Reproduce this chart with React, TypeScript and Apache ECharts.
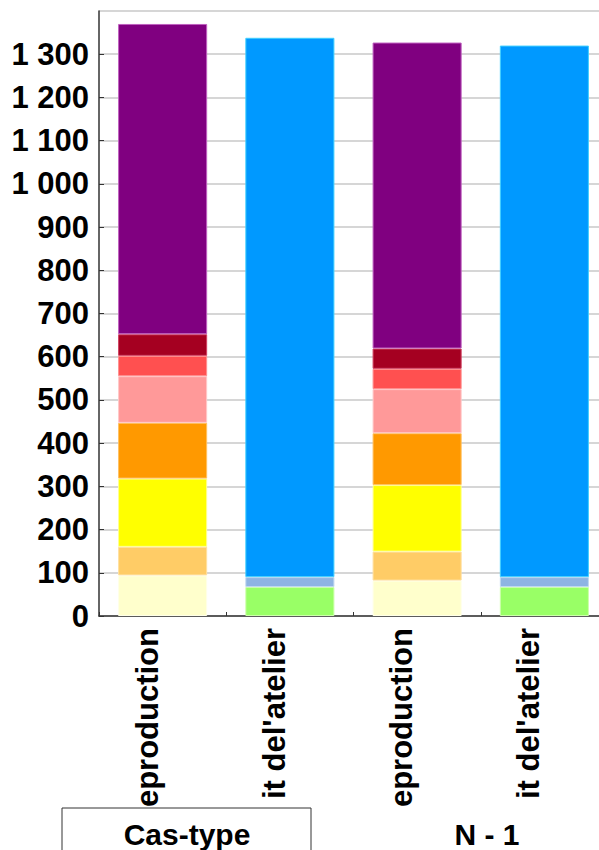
import React, { useEffect, useRef } from "react";
import * as echarts from "echarts";

const categories = ["eproduction", "it del'atelier", "eproduction", "it del'atelier"];
const groupLabels = ["Cas-type", "N - 1"];
const yTicks = { min: 0, max: 1400, interval: 100 };

const seriesNames = [
  "Poste 1", "Poste 2", "Poste 3", "Poste 4", "Poste 5", "Poste 6", "Poste 7", "Poste 8",
  "Poste 9", "Poste 10", "Poste 11",
];
const seriesColors = [
  "#FFFFCC", "#FFCC66", "#FFFF00", "#FF9900", "#FF9999", "#FF5050", "#A50021", "#800080",
  "#99FF66", "#8EB4E3", "#0099FF",
];
const seriesBorders = [
  "#FFFFE8", "#FFE0A0", "#FFFF90", "#FFC060", "#FFC8C8", "#FF9090", "#D04060", "#C060C0",
  "#CCFFAA", "#C0D8F0", "#40D0FF",
];
const s1 = [94, null, 82, null];
const s2 = [66, null, 67, null];
const s3 = [158, null, 154, null];
const s4 = [129, null, 120, null];
const s5 = [108, null, 102, null];
const s6 = [47, null, 47, null];
const s7 = [50, null, 47, null];
const s8 = [718, null, 708, null];
const s9 = [null, 67, null, 67];
const s10 = [null, 23, null, 23];
const s11 = [null, 1248, null, 1230];
const seriesValues = [s1, s2, s3, s4, s5, s6, s7, s8, s9, s10, s11];

const FONT = "'Liberation Sans', Arial, sans-serif";

function fmt(v: number): string {
  if (v >= 1000) {
    return `${Math.floor(v / 1000)} ${String(v % 1000).padStart(3, "0")}`;
  }
  return String(v);
}

export default function App() {
  const ref = useRef<HTMLDivElement>(null);
  useEffect(() => {
    if (!ref.current) return;
    const chart = echarts.init(ref.current, null, { renderer: "svg" });
    chart.setOption({
      animation: false,
      backgroundColor: "#ffffff",
      grid: { left: 99, top: 11, bottom: 234, right: 2, containLabel: false },
      xAxis: {
        type: "category",
        data: categories,
        axisLine: { show: true, lineStyle: { color: "#333333", width: 1.5 } },
        axisTick: { show: true, inside: true, length: 4, lineStyle: { color: "#333333" } },
        axisLabel: {
          rotate: 90,
          margin: 12,
          fontSize: 31,
          fontWeight: "bold",
          fontFamily: FONT,
          color: "#000000",
          interval: 0,
          verticalAlign: "bottom",
        },
        splitLine: { show: false },
      },
      yAxis: {
        type: "value",
        min: yTicks.min,
        max: yTicks.max,
        interval: yTicks.interval,
        axisLine: { show: true, lineStyle: { color: "#333333", width: 1.5 } },
        axisTick: { show: true, inside: true, length: 5, lineStyle: { color: "#333333" } },
        axisLabel: {
          showMaxLabel: false,
          margin: 10,
          fontSize: 31,
          fontWeight: "bold",
          fontFamily: FONT,
          color: "#000000",
          formatter: (v: number) => fmt(v),
        },
        splitLine: { show: true, lineStyle: { color: "#c8c8c8", width: 1.5 } },
      },
      series: seriesValues.map((vals, i) => ({
        name: seriesNames[i],
        type: "bar",
        stack: "total",
        barWidth: "70%",
        data: vals.map((v) => (v === null ? "-" : v)),
        itemStyle: { color: seriesColors[i], borderColor: seriesBorders[i], borderWidth: 1 },
      })),
      graphic: [
        {
          type: "rect",
          shape: { x: 62, y: 808, width: 249, height: 60 },
          style: { fill: "none", stroke: "#333333", lineWidth: 1 },
          silent: true,
        },
        {
          type: "text",
          x: 187,
          y: 834,
          style: {
            text: groupLabels[0],
            fontSize: 30,
            fontWeight: "bold",
            fontFamily: FONT,
            fill: "#000000",
            align: "center",
            verticalAlign: "middle",
          },
        },
        {
          type: "text",
          x: 487,
          y: 834,
          style: {
            text: groupLabels[1],
            fontSize: 30,
            fontWeight: "bold",
            fontFamily: FONT,
            fill: "#000000",
            align: "center",
            verticalAlign: "middle",
          },
        },
      ],
    });
    return () => chart.dispose();
  }, []);
  return (
    <div style={{ position: "absolute", left: 0, top: 0, width: 599, height: 850, overflow: "hidden" }}>
      <div ref={ref} style={{ width: 610, height: 850 }} />
    </div>
  );
}
